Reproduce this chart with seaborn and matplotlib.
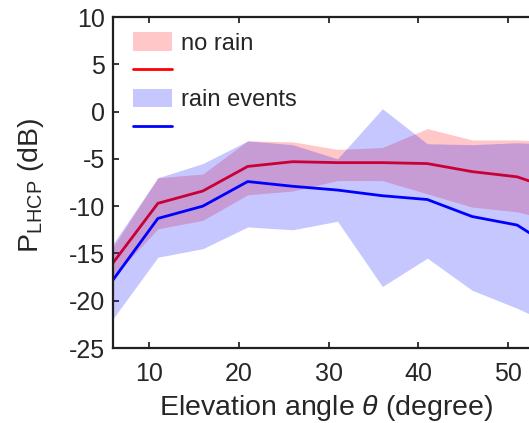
import matplotlib
matplotlib.use("Agg")
import matplotlib.pyplot as plt
from matplotlib.patches import Patch
from matplotlib.lines import Line2D
import numpy as np
import pandas as pd
import seaborn as sns

# Elevation angle bins (degree)
elevation = [6, 11, 16, 21, 26, 31, 36, 41, 46, 51, 56]

# LHCP power without rain: mean and spread (dB)
no_rain_mean = [-16.0, -9.7, -8.4, -5.8, -5.3, -5.4, -5.4, -5.5, -6.35, -6.9, -8.5]
no_rain_upper = [-14.3, -7.0, -6.6, -3.1, -3.2, -4.0, -3.8, -1.8, -3.0, -3.0, -3.2]
no_rain_lower = [-17.5, -12.4, -11.5, -8.8, -8.4, -7.3, -7.3, -8.7, -10.1, -10.6, -11.8]

# LHCP power during rain events: mean and spread (dB)
rain_mean = [-17.8, -11.3, -10.0, -7.4, -7.9, -8.3, -8.9, -9.3, -11.1, -12.0, -15.0]
rain_upper = [-14.0, -7.0, -5.5, -3.1, -3.5, -5.0, 0.3, -3.4, -3.5, -3.3, -3.5]
rain_lower = [-21.9, -15.4, -14.5, -12.2, -12.5, -11.6, -18.5, -15.5, -18.9, -20.8, -23.0]

y_ticks = [10, 5, 0, -5, -10, -15, -20, -25]
x_ticks = [10, 20, 30, 40, 50]

sns.set_theme(style="ticks")
plt.rcParams["font.family"] = ["Liberation Sans", "DejaVu Sans"]
plt.rcParams["mathtext.fontset"] = "custom"
plt.rcParams["mathtext.rm"] = "Liberation Sans"
plt.rcParams["mathtext.it"] = "Liberation Sans:italic"
plt.rcParams["axes.unicode_minus"] = False

df = pd.DataFrame({
    "elev": elevation,
    "no_rain": no_rain_mean,
    "rain": rain_mean,
})

W, H = 529, 423
fig = plt.figure(figsize=(W / 100, H / 100), dpi=100)
ax_left, ax_right, ax_top, ax_bottom = 113, 562, 17, 348
ax = fig.add_axes([ax_left / W, 1 - ax_bottom / H,
                   (ax_right - ax_left) / W, (ax_bottom - ax_top) / H])

red = (1.0, 0.0, 0.0)
blue = (0.0, 0.0, 1.0)
fill_alpha = 0.22

ax.fill_between(elevation, no_rain_lower, no_rain_upper, color=red,
                alpha=fill_alpha, linewidth=0, zorder=1)
sns.lineplot(data=df, x="elev", y="no_rain", color=red, linewidth=2.0,
             ax=ax, zorder=1.5)
ax.fill_between(elevation, rain_lower, rain_upper, color=blue,
                alpha=fill_alpha, linewidth=0, zorder=2)
sns.lineplot(data=df, x="elev", y="rain", color=blue, linewidth=2.0,
             ax=ax, zorder=2.5)

ax.set_xlim(6, 56)
ax.set_ylim(-25, 10)
ax.set_xticks(x_ticks)
ax.set_yticks(y_ticks)
ax.tick_params(axis="both", direction="in", length=4, width=1.3,
               labelsize=18, colors="#262626", top=True)
ax.tick_params(axis="x", pad=10)
ax.tick_params(axis="y", pad=6)
for side in ["left", "bottom", "top"]:
    ax.spines[side].set_linewidth(1.6)
    ax.spines[side].set_color("#202020")
ax.spines["right"].set_visible(False)

ax.set_xlabel(r"Elevation angle $\theta$ (degree)", fontsize=20.5,
              color="#262626")
ax.set_ylabel(r"P$_{\mathrm{LHCP}}$ (dB)", fontsize=20.5, color="#262626")
ax.xaxis.set_label_coords((326 - ax_left) / (ax_right - ax_left), -0.137)
ax.yaxis.set_label_coords(-0.15, 0.49)

handles = [
    Patch(facecolor=red, alpha=fill_alpha, linewidth=0),
    Line2D([], [], color=red, linewidth=2.0),
    Patch(facecolor=blue, alpha=fill_alpha, linewidth=0),
    Line2D([], [], color=blue, linewidth=2.0),
]
labels = ["no rain", "", "rain events", ""]
ax.legend(handles, labels, loc="upper left",
          bbox_to_anchor=((133 - ax_left) / (ax_right - ax_left),
                          (ax_bottom - 32) / (ax_bottom - ax_top)),
          frameon=False, fontsize=17, borderpad=0, borderaxespad=0,
          handlelength=1.65, handleheight=0.85, handletextpad=0.38,
          labelspacing=0.24, labelcolor="#262626")

fig.savefig("out.png", dpi=100, facecolor="white")
